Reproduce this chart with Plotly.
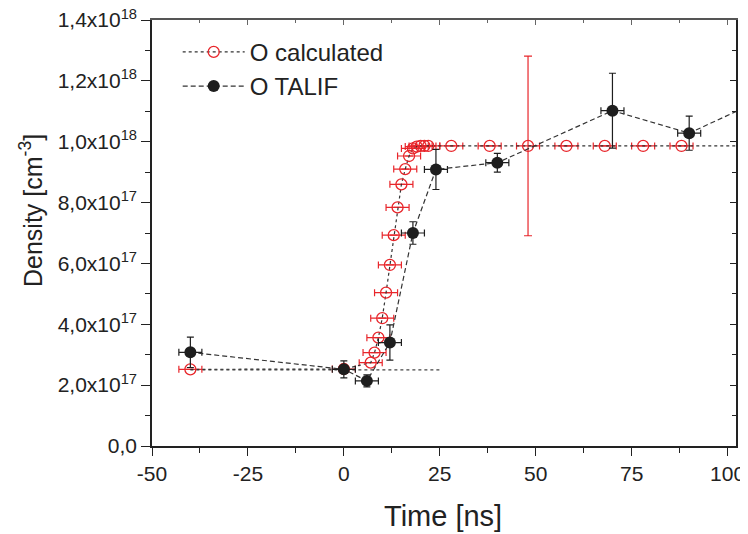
import plotly.graph_objects as go

# ---- data ----
calc_x = [-40, 0, 7, 8, 9, 10, 11, 12, 13, 14, 15, 16, 17, 18, 19, 20, 21, 22,
          28, 38, 48, 58, 68, 78, 88, 108]
calc_y = [2.52e17, 2.53e17, 2.74e17, 3.07e17, 3.56e17, 4.20e17, 5.04e17, 5.95e17,
          6.93e17, 7.84e17, 8.60e17, 9.10e17, 9.53e17, 9.78e17, 9.84e17, 9.86e17,
          9.86e17, 9.86e17, 9.86e17, 9.86e17, 9.86e17, 9.86e17, 9.86e17, 9.86e17,
          9.86e17, 9.86e17]
calc_xerr = [3] * len(calc_x)
calc_yerr = [0] * len(calc_x)
calc_yerr[calc_x.index(48)] = 2.95e17

talif_x = [-40, 0, 6, 12, 18, 24, 40, 70, 90, 110]
talif_y = [3.08e17, 2.52e17, 2.14e17, 3.40e17, 7.00e17, 9.09e17, 9.31e17,
           1.102e18, 1.028e18, 1.145e18]
talif_xerr = [3] * len(talif_x)
talif_yerr = [0.50e17, 0.28e17, 0.20e17, 0.58e17, 0.37e17, 0.66e17, 0.31e17,
              1.23e17, 0.56e17, 0.5e17]

baseline_x = [-40, 25]
baseline_y = [2.5e17, 2.5e17]

x_tickvals = [-50, -25, 0, 25, 50, 75, 100]
x_ticktext = ["-50", "-25", "0", "25", "50", "75", "100"]
y_tickvals = [0, 2e17, 4e17, 6e17, 8e17, 1e18, 1.2e18, 1.4e18]
y_ticktext = ["0,0", "2,0x10<sup>17</sup>", "4,0x10<sup>17</sup>", "6,0x10<sup>17</sup>",
              "8,0x10<sup>17</sup>", "1,0x10<sup>18</sup>", "1,2x10<sup>18</sup>",
              "1,4x10<sup>18</sup>"]

RED = "#e8262b"
DARK = "#1e1e1e"
FONT = "Liberation Sans, Arial, sans-serif"
XR = [-50, 102.2]
YR = [0, 1.4e18]

# page body has an 8px margin; figure coords = screen coords - 8
OFF = 8
W, H = 766, 534 - OFF
L, T = 152 - OFF, 20 - OFF
R = W - (736 - OFF)
B = H - (446 - OFF)
PW, PH = W - L - R, H - T - B


def px_x(sx):
    return (sx - OFF - L) / PW


def px_y(sy):
    return (T + PH - (sy - OFF)) / PH


fig = go.Figure()

fig.add_trace(go.Scatter(
    x=baseline_x, y=baseline_y, mode="lines", showlegend=False,
    line=dict(color="#444444", width=1.2, dash="dot"), hoverinfo="skip"))

fig.add_trace(go.Scatter(
    x=calc_x, y=calc_y, mode="lines+markers", name="O calculated",
    line=dict(color="#333333", width=1.2, dash="dot"),
    marker=dict(symbol="circle-open", size=11, color=RED, line=dict(width=1.3, color=RED)),
    error_x=dict(type="data", array=calc_xerr, color=RED, thickness=1.2, width=3.5),
    error_y=dict(type="data", array=calc_yerr, color=RED, thickness=1.2, width=4),
))

fig.add_trace(go.Scatter(
    x=talif_x, y=talif_y, mode="lines+markers", name="O TALIF",
    line=dict(color="#333333", width=1.2, dash="5px,3px"),
    marker=dict(symbol="circle", size=12, color=DARK),
    error_x=dict(type="data", array=talif_xerr, color=DARK, thickness=1.2, width=3.5),
    error_y=dict(type="data", array=talif_yerr, color=DARK, thickness=1.2, width=3.5),
))

# dummy trace for the mirrored (inward-tick) axes
fig.add_trace(go.Scatter(x=[None], y=[None], xaxis="x2", yaxis="y2",
                         showlegend=False, hoverinfo="skip"))

fig.update_layout(
    width=W, height=H,
    margin=dict(l=L, r=R, t=T, b=B, autoexpand=False),
    paper_bgcolor="white", plot_bgcolor="white",
    font=dict(family=FONT, color="#222222"),
    showlegend=True,
    legend=dict(x=0.044, y=0.977, xanchor="left", yanchor="top",
                font=dict(size=24, family=FONT, color="#222222"),
                bgcolor="rgba(0,0,0,0)", itemwidth=62, tracegroupgap=0),
    xaxis=dict(range=XR, tickvals=x_tickvals, ticktext=x_ticktext, automargin=False,
               ticklabeloverflow="allow",
               ticks="outside", ticklen=8, tickwidth=1.3, tickcolor="#222",
               showline=True, linecolor="#222", linewidth=1.5,
               showgrid=False, zeroline=False,
               tickfont=dict(size=21, family=FONT, color="#222"),
               minor=dict(dtick=12.5, tick0=-50, ticks="outside", ticklen=5,
                          tickwidth=1.2, tickcolor="#222", showgrid=False)),
    yaxis=dict(range=YR, tickvals=y_tickvals, ticktext=y_ticktext, automargin=False,
               ticklabeloverflow="allow",
               ticks="outside", ticklen=9, tickwidth=1.3, tickcolor="#222",
               showline=True, linecolor="#222", linewidth=1.5,
               showgrid=False, zeroline=False,
               tickfont=dict(size=21, family=FONT, color="#222"),
               minor=dict(dtick=1e17, tick0=0, ticks="outside", ticklen=5,
                          tickwidth=1.2, tickcolor="#222", showgrid=False)),
    xaxis2=dict(range=XR, overlaying="x", side="top", anchor="y2", automargin=False,
                showticklabels=False, tickvals=x_tickvals,
                ticks="inside", ticklen=5, tickwidth=1.2, tickcolor="#666",
                showline=True, linecolor="#555", linewidth=1.5,
                showgrid=False, zeroline=False,
                minor=dict(dtick=12.5, tick0=-50, ticks="inside", ticklen=3,
                           tickcolor="#666", showgrid=False)),
    yaxis2=dict(range=YR, overlaying="y", side="right", anchor="x2", automargin=False,
                showticklabels=False, tickvals=y_tickvals,
                ticks="inside", ticklen=6, tickwidth=1.2, tickcolor="#222",
                showline=True, linecolor="#222", linewidth=1.8,
                showgrid=False, zeroline=False,
                minor=dict(dtick=1e17, tick0=0, ticks="inside", ticklen=4,
                           tickcolor="#222", showgrid=False)),
    annotations=[
        dict(text="Time [ns]", xref="paper", yref="paper",
             x=px_x(443), y=px_y(516), xanchor="center", yanchor="middle",
             showarrow=False, font=dict(size=29, family=FONT, color="#222")),
        dict(text="Density [cm<sup>-3</sup>]", xref="paper", yref="paper", textangle=-90,
             x=px_x(31), y=px_y(211), xanchor="center", yanchor="middle",
             showarrow=False, font=dict(size=25, family=FONT, color="#222")),
    ],
)

fig.write_html("out.html")
